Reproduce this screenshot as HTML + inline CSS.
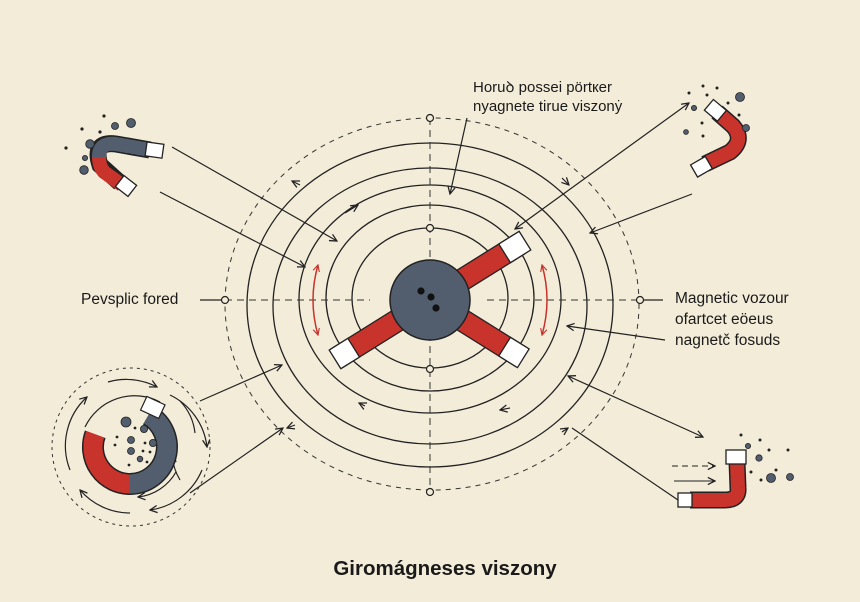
<!DOCTYPE html>
<html><head><meta charset="utf-8"><style>
html,body{margin:0;padding:0;background:#f3ecd9;}
svg{display:block;}
text{font-family:"Liberation Sans",sans-serif;fill:#1a1a1a;}
</style></head><body>
<svg width="860" height="602" viewBox="0 0 860 602" xmlns="http://www.w3.org/2000/svg">
<defs>
<marker id="a" viewBox="0 0 10 10" refX="9" refY="5" markerWidth="9" markerHeight="9" orient="auto-start-reverse" markerUnits="userSpaceOnUse">
<path d="M1,1 L9,5 L1,9" fill="none" stroke="#222" stroke-width="1.4"/></marker>
<marker id="r" viewBox="0 0 10 10" refX="9" refY="5" markerWidth="8" markerHeight="8" orient="auto-start-reverse" markerUnits="userSpaceOnUse">
<path d="M1,1 L9,5 L1,9" fill="none" stroke="#c8332c" stroke-width="1.4"/></marker>
</defs>
<rect width="860" height="602" fill="#f3ecd9"/>

<!-- dashed outer -->
<ellipse cx="432" cy="304" rx="207" ry="186" fill="none" stroke="#333" stroke-width="1" stroke-dasharray="5,5"/>
<!-- rings -->
<g fill="none" stroke="#222" stroke-width="1.3">
<ellipse cx="430" cy="298" rx="78" ry="70"/>
<ellipse cx="430" cy="298" rx="104" ry="93"/>
<ellipse cx="430" cy="299" rx="131" ry="114"/>
<ellipse cx="430" cy="306" rx="157" ry="138"/>
<ellipse cx="430" cy="305" rx="183" ry="162"/>
</g>
<!-- axes -->
<g stroke="#333" stroke-width="1" stroke-dasharray="7,5">
<line x1="430" y1="118" x2="430" y2="490"/>
<line x1="225" y1="300" x2="370" y2="300"/>
<line x1="487" y1="300" x2="640" y2="300"/>
</g>
<line x1="200" y1="300" x2="222" y2="300" stroke="#222" stroke-width="1.2"/>
<line x1="644" y1="300" x2="663" y2="300" stroke="#222" stroke-width="1.2"/>
<g fill="#f3ecd9" stroke="#222" stroke-width="1.2">
<circle cx="430" cy="118" r="3.5"/><circle cx="430" cy="228" r="3.5"/><circle cx="430" cy="369" r="3.5"/><circle cx="430" cy="492" r="3.5"/>
<circle cx="225" cy="300" r="3.5"/><circle cx="640" cy="300" r="3.5"/>
</g>

<!-- magnet arms -->
<g stroke="#222" stroke-width="1.3">
<g transform="translate(430,300) rotate(-32)">
<rect x="0" y="-11" width="105" height="22" fill="#c8332c"/><rect x="88" y="-11" width="24" height="22" fill="#fff"/></g>
<g transform="translate(430,300) rotate(148)">
<rect x="0" y="-11" width="110" height="22" fill="#c8332c"/><rect x="90" y="-11" width="22" height="22" fill="#fff"/></g>
<g transform="translate(430,300) rotate(32)">
<rect x="0" y="-11" width="108" height="22" fill="#c8332c"/><rect x="88" y="-11" width="22" height="22" fill="#fff"/></g>
</g>
<circle cx="430" cy="300" r="40" fill="#525e6e" stroke="#222" stroke-width="1.5"/>
<circle cx="421" cy="291" r="3.6" fill="#111"/><circle cx="431" cy="297" r="3.6" fill="#111"/><circle cx="436" cy="308" r="3.6" fill="#111"/>

<!-- red double arrows -->
<path d="M318,265 Q308,300 318,335" fill="none" stroke="#c8332c" stroke-width="1.5" marker-start="url(#r)" marker-end="url(#r)"/>
<path d="M542,265 Q552,300 542,335" fill="none" stroke="#c8332c" stroke-width="1.5" marker-start="url(#r)" marker-end="url(#r)"/>

<!-- connectors -->
<g stroke="#222" stroke-width="1.2" fill="none">
<line x1="172" y1="147" x2="337" y2="241" marker-end="url(#a)"/>
<line x1="160" y1="192" x2="305" y2="267" marker-end="url(#a)"/>
<line x1="467" y1="118" x2="450" y2="194" marker-end="url(#a)"/>
<line x1="515" y1="229" x2="689" y2="103" marker-start="url(#a)" marker-end="url(#a)"/>
<line x1="692" y1="194" x2="590" y2="233" marker-end="url(#a)"/>
<line x1="665" y1="340" x2="567" y2="326" marker-end="url(#a)"/>
<line x1="568" y1="376" x2="703" y2="437" marker-start="url(#a)" marker-end="url(#a)"/>
<line x1="678" y1="500" x2="572" y2="428"/>
<line x1="200" y1="401" x2="282" y2="365" marker-end="url(#a)"/>
<line x1="190" y1="493" x2="283" y2="428" marker-end="url(#a)"/>
<!-- small ring arrows -->
<path d="M345,213 L358,205" marker-end="url(#a)"/>
<path d="M300,185 L292,181" marker-end="url(#a)"/>
<path d="M562,178 L569,185" marker-end="url(#a)"/>
<path d="M365,406 L359,403" marker-end="url(#a)"/>
<path d="M510,408 L500,410" marker-end="url(#a)"/>
<path d="M295,425 L287,428" marker-end="url(#a)"/>
<path d="M562,432 L568,428" marker-end="url(#a)"/>
</g>

<!-- top-left magnet -->
<g fill="none" stroke-linecap="butt">
<path d="M150,150 L116,144 Q92,141 100,165 L120,183" stroke="#222" stroke-width="17"/>
<path d="M150,150 L116,144 Q98,142 99,158" stroke="#525e6e" stroke-width="14"/>
<path d="M99,157 Q99,166 104,172 L122,185" stroke="#c8332c" stroke-width="14"/>
</g>
<g stroke="#222" stroke-width="1.3" fill="#fff">
<rect x="146" y="143" width="17" height="14" transform="rotate(8,154,150)"/>
<rect x="118" y="179" width="16" height="14" transform="rotate(38,126,186)"/>
</g>
<g fill="#525e6e" stroke="#222" stroke-width="0.8">
<circle cx="131" cy="123" r="4.5"/><circle cx="115" cy="126" r="3.5"/><circle cx="90" cy="144" r="4.3"/><circle cx="84" cy="170" r="4.3"/><circle cx="85" cy="158" r="2.6"/>
</g>
<g fill="#222"><circle cx="104" cy="116" r="1.6"/><circle cx="82" cy="129" r="1.6"/><circle cx="100" cy="132" r="1.6"/><circle cx="66" cy="148" r="1.6"/></g>

<!-- top-right magnet -->
<g fill="none">
<path d="M717,112 L733,126 Q745,140 730,152 L705,164" stroke="#222" stroke-width="17"/>
<path d="M717,112 L733,126 Q745,140 730,152 L705,164" stroke="#c8332c" stroke-width="14"/>
</g>
<g stroke="#222" stroke-width="1.3" fill="#fff">
<rect x="707" y="103" width="17" height="14" transform="rotate(40,715,110)"/>
<rect x="693" y="160" width="17" height="14" transform="rotate(-30,701,167)"/>
</g>
<g fill="#525e6e" stroke="#222" stroke-width="0.8"><circle cx="740" cy="97" r="4.5"/><circle cx="746" cy="128" r="3.5"/><circle cx="694" cy="108" r="2.6"/><circle cx="686" cy="132" r="2.4"/></g>
<g fill="#222"><circle cx="689" cy="93" r="1.5"/><circle cx="703" cy="86" r="1.5"/><circle cx="717" cy="88" r="1.5"/><circle cx="707" cy="95" r="1.5"/><circle cx="728" cy="103" r="1.5"/><circle cx="739" cy="115" r="1.5"/><circle cx="702" cy="123" r="1.5"/><circle cx="703" cy="136" r="1.5"/></g>

<!-- bottom-right magnet -->
<g fill="none">
<path d="M737,462 L738,488 Q739,500 725,500 L690,500" stroke="#222" stroke-width="17"/>
<path d="M737,462 L738,488 Q739,500 725,500 L690,500" stroke="#c8332c" stroke-width="14"/>
</g>
<g stroke="#222" stroke-width="1.3" fill="#fff">
<rect x="726" y="450" width="20" height="14"/>
<rect x="678" y="493" width="14" height="14"/>
</g>
<g stroke="#222" stroke-width="1.1" fill="none">
<path d="M672,466 L715,466" stroke-dasharray="6,4" marker-end="url(#a)"/>
<path d="M674,481 L715,481" marker-end="url(#a)"/>
</g>
<g fill="#525e6e" stroke="#222" stroke-width="0.8"><circle cx="771" cy="478" r="4.5"/><circle cx="790" cy="477" r="3.5"/><circle cx="759" cy="458" r="3.2"/><circle cx="748" cy="446" r="2.6"/></g>
<g fill="#222"><circle cx="741" cy="435" r="1.5"/><circle cx="760" cy="440" r="1.5"/><circle cx="769" cy="450" r="1.5"/><circle cx="788" cy="450" r="1.5"/><circle cx="751" cy="472" r="1.5"/><circle cx="776" cy="470" r="1.5"/><circle cx="761" cy="480" r="1.5"/></g>

<!-- bottom-left circle -->
<circle cx="131" cy="447" r="79" fill="none" stroke="#333" stroke-width="1" stroke-dasharray="3,4"/>
<g fill="none" stroke="#222" stroke-width="1.2">
<path d="M108,382 A66,66 0 0 1 157,387" marker-end="url(#a)"/>
<path d="M170,395 A66,66 0 0 1 207,447" marker-end="url(#a)"/>
<path d="M202,470 A66,66 0 0 1 150,510" marker-end="url(#a)"/>
<path d="M130,513 A66,66 0 0 1 80,490" marker-end="url(#a)"/>
<path d="M70,470 A66,66 0 0 1 87,397" marker-end="url(#a)"/>
<path d="M176,472 A50,50 0 0 1 138,497" marker-end="url(#a)"/>
<path d="M195,433 A55,55 0 0 0 180,401"/>
<path d="M160,402 A55,55 0 0 0 85,427"/>
<path d="M180,480 A58,58 0 0 1 172,455" marker-end="url(#a)" />
</g>
<path d="M95.2,434.3 A37,37 0 0 0 130,484" fill="none" stroke="#222" stroke-width="22"/>
<path d="M130,484 A37,37 0 0 0 148.5,415" fill="none" stroke="#222" stroke-width="22"/>
<path d="M95.2,434.3 A37,37 0 0 0 130,484" fill="none" stroke="#c8332c" stroke-width="19"/>
<path d="M130,484 A37,37 0 0 0 148.5,415" fill="none" stroke="#525e6e" stroke-width="19"/>
<rect x="143" y="400" width="20" height="15" fill="#fff" stroke="#222" stroke-width="1.2" transform="rotate(25,153,407)"/>
<g fill="#525e6e" stroke="#222" stroke-width="0.8"><circle cx="126" cy="422" r="5"/><circle cx="144" cy="429" r="3.6"/><circle cx="131" cy="440" r="3.5"/><circle cx="153" cy="443" r="3.6"/><circle cx="131" cy="451" r="3.5"/><circle cx="140" cy="459" r="2.8"/></g>
<g fill="#222"><circle cx="135" cy="428" r="1.4"/><circle cx="117" cy="437" r="1.4"/><circle cx="145" cy="443" r="1.4"/><circle cx="115" cy="445" r="1.4"/><circle cx="143" cy="451" r="1.4"/><circle cx="150" cy="452" r="1.4"/><circle cx="129" cy="465" r="1.4"/><circle cx="147" cy="462" r="1.4"/></g>

<!-- labels -->
<text x="473" y="92" font-size="15">Horuꝺ possei pörtкer</text>
<text x="473" y="111" font-size="15">nyagnete tirue viszonẏ</text>
<text x="81" y="304" font-size="15.5">Pevsplic fored</text>
<text x="675" y="303" font-size="15.5">Magnetic vozour</text>
<text x="675" y="324" font-size="15.5">ofartcet eöeus</text>
<text x="675" y="345" font-size="15.5">nagnetč fosuds</text>
<text x="445" y="575" font-size="20.5" font-weight="bold" text-anchor="middle">Giromágneses viszony</text>
</svg>
</body></html>
